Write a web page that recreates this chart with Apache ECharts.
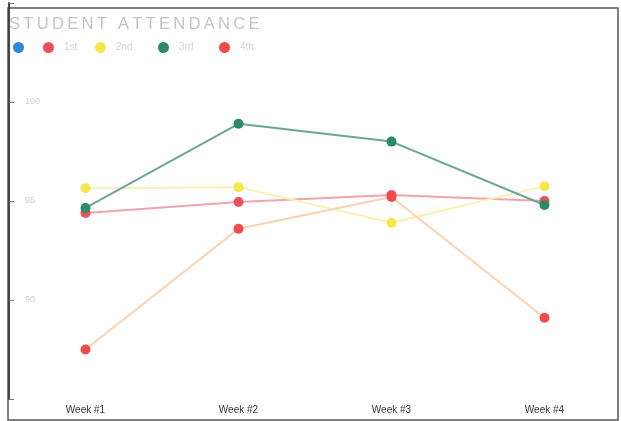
<!DOCTYPE html>
<html><head><meta charset="utf-8">
<script src="https://cdn.jsdelivr.net/npm/echarts@6/dist/echarts.min.js"></script>
<style>html,body{margin:0;padding:0;background:#fff}#c{width:621px;height:421px}</style>
</head><body><div id="c"></div>
<script>
const categories = ['Week #1', 'Week #2', 'Week #3', 'Week #4'];
const seriesNames = [' ', '1st', '2nd', '3rd', '4th'];
const blank = [null, null, null, null];
const first = [94.4, 94.95, 95.3, 95.0];
const second = [95.65, 95.7, 93.9, 95.75];
const third = [94.65, 98.9, 98.0, 94.8];
const fourth = [87.5, 93.6, 95.2, 89.1];
const yTicks = [90, 95, 100];
const titleText = 'STUDENT ATTENDANCE';

const lineColors = ['#2f86e0', '#f0a4ac', '#f9f2b4', '#6aa596', '#fbd2b0'];
const dotColors = ['#2f86e0', '#ee4f5c', '#f6e84a', '#2e8a62', '#f04a4a'];
const legendLeft = [8, 38, 90, 153, 214];
const allData = [blank, first, second, third, fourth];

const chart = echarts.init(document.getElementById('c'));
chart.setOption({
  animation: false,
  title: {text: titleText.split('').join('\u2009'), left: 4, top: 11,
    textStyle: {color: '#c4c4c4', fontSize: 16.5, fontWeight: 'normal', fontFamily: 'Liberation Sans'}},
  legend: seriesNames.map((n, i) => ({
    left: legendLeft[i], top: 37, itemWidth: 11, itemHeight: 11, itemGap: 0, icon: 'circle',
    data: [{name: n, itemStyle: {color: dotColors[i]}}],
    textStyle: {color: '#d4d4d4', fontSize: 10, padding: [0, 0, 0, 5]}
  })),
  grid: {left: 9, right: -4, top: 3, bottom: 22},
  xAxis: {type: 'category', data: categories, boundaryGap: true,
    axisLine: {show: false}, axisTick: {show: false},
    axisLabel: {color: '#333', fontSize: 10, margin: 6, fontFamily: 'Liberation Sans'}},
  yAxis: {type: 'value', min: 85, max: 105, interval: 5,
    axisLine: {show: true, lineStyle: {color: '#444', width: 2}},
    axisTick: {show: true, inside: true, length: 5, lineStyle: {color: '#777'}},
    splitLine: {show: false},
    axisLabel: {inside: true, margin: 16, color: '#d0d0d0', fontSize: 9,
      formatter: v => yTicks.includes(v) ? String(v) : ''}},
  graphic: [{type: 'rect', shape: {x: 8, y: 8, width: 610, height: 412},
    style: {fill: 'none', stroke: '#555', lineWidth: 1.5}, silent: true, z: -1}],
  series: seriesNames.map((n, i) => ({
    name: n, type: 'line', data: allData[i], symbol: 'circle', symbolSize: 10,
    lineStyle: {color: lineColors[i], width: 2}, itemStyle: {color: dotColors[i]},
    z: i === 3 ? 3 : 2
  }))
});
</script></body></html>
